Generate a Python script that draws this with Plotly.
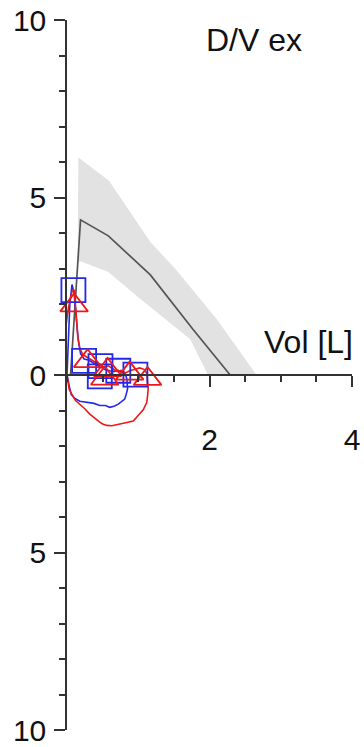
import plotly.graph_objects as go

# Predicted mean flow-volume curve (volume [L], flow) and its spread band
mean_vol = [0.05, 0.19, 0.58, 1.17, 1.77, 2.29]
mean_flow = [0.0, 4.37, 3.92, 2.82, 1.28, 0.0]

band_upper_vol = [0.16, 0.59, 1.17, 1.52, 2.10, 2.66]
band_upper_flow = [6.13, 5.47, 3.75, 2.99, 1.58, 0.0]
band_lower_vol = [1.98, 1.73, 1.03, 0.58, 0.20, 0.15]
band_lower_flow = [0.0, 1.01, 2.14, 2.90, 3.20, 3.20]

# Measured loop, blue
blue_vol = [0.0, 0.01, 0.02, 0.04, 0.07, 0.10, 0.13, 0.16, 0.19, 0.24, 0.30, 0.36,
            0.42, 0.48, 0.54, 0.60, 0.66, 0.72, 0.78, 0.82, 0.84, 0.84, 0.85, 0.83,
            0.81, 0.76, 0.72, 0.66, 0.60, 0.54, 0.46, 0.38, 0.28, 0.18, 0.11, 0.06,
            0.04, 0.02, 0.0]
blue_flow = [0.0, 0.6, 1.3, 2.0, 2.55, 2.3, 1.6, 0.95, 0.6, 0.45, 0.42, 0.35,
             0.30, 0.22, 0.15, 0.12, 0.10, 0.13, 0.06, 0.02, -0.11, -0.25, -0.39, -0.55,
             -0.68, -0.76, -0.82, -0.88, -0.91, -0.86, -0.86, -0.80, -0.77, -0.74, -0.66, -0.55,
             -0.39, -0.18, 0.0]

# Measured loop, red
red_vol = [0.0, -0.03, -0.02, 0.02, 0.07, 0.10, 0.13, 0.15, 0.18, 0.22, 0.28, 0.34,
           0.40, 0.46, 0.52, 0.58, 0.64, 0.70, 0.76, 0.82, 0.88, 0.95, 1.02, 1.08,
           1.12, 1.13, 1.14, 1.13, 1.12, 1.07, 1.00, 0.93, 0.84, 0.76, 0.70, 0.63,
           0.56, 0.50, 0.46, 0.39, 0.32, 0.25, 0.18, 0.12, 0.07, 0.03, 0.0]
red_flow = [0.0, 0.6, 1.3, 1.9, 2.35, 2.4, 1.7, 1.1, 0.75, 0.58, 0.50, 0.42,
            0.36, 0.30, 0.22, 0.26, 0.18, 0.10, 0.13, 0.06, 0.12, 0.15, 0.20, 0.16,
            0.05, -0.18, -0.39, -0.60, -0.77, -0.98, -1.15, -1.30, -1.34, -1.38, -1.40, -1.43,
            -1.42, -1.38, -1.33, -1.22, -1.10, -0.95, -0.84, -0.72, -0.55, -0.40, 0.0]

# Interval markers
square_vol = [0.09, 0.24, 0.47, 0.46, 0.72, 0.96]
square_flow = [2.39, 0.40, 0.25, -0.04, 0.12, 0.01]
triangle_vol = [0.10, 0.29, 0.57, 0.53, 0.88, 1.13]
triangle_flow = [1.96, 0.39, 0.14, -0.10, 0.04, -0.11]

y_tickvals = [-10, -5, 0, 5, 10]
y_ticktext = ["10", "5", "0", "5", "10"]
x_tickvals = [2, 4]
x_ticktext = ["2", "4"]

BLUE = "rgb(35,40,235)"
RED = "rgb(235,25,25)"
FONT = "Liberation Sans, Arial, sans-serif"

fig = go.Figure()

fig.add_trace(go.Scatter(
    x=band_upper_vol + band_lower_vol,
    y=band_upper_flow + band_lower_flow,
    fill="toself", fillcolor="rgb(226,226,226)",
    line=dict(width=0), mode="lines", hoverinfo="skip"))

fig.add_trace(go.Scatter(x=mean_vol, y=mean_flow, mode="lines",
                         line=dict(color="rgb(85,85,85)", width=1.7)))

fig.add_trace(go.Scatter(x=blue_vol, y=blue_flow, mode="lines",
                         line=dict(color=BLUE, width=1.6)))
fig.add_trace(go.Scatter(x=red_vol, y=red_flow, mode="lines",
                         line=dict(color=RED, width=1.6)))

fig.add_trace(go.Scatter(x=square_vol, y=square_flow, mode="markers",
                         cliponaxis=False,
                         marker=dict(symbol="square-open", size=24, color=BLUE,
                                     line=dict(width=1.8, color=BLUE))))
fig.add_trace(go.Scatter(x=triangle_vol, y=triangle_flow, mode="markers",
                         cliponaxis=False,
                         marker=dict(symbol="triangle-up-open", size=24, color=RED,
                                     line=dict(width=1.8, color=RED))))

fig.add_annotation(x=1.92, y=9.43, xref="x", yref="y", text="D/V ex",
                   showarrow=False, xanchor="left", yanchor="middle",
                   font=dict(family=FONT, size=32, color="#111"))
fig.add_annotation(x=4.0, y=0.92, xref="x", yref="y", text="Vol [L]",
                   showarrow=False, xanchor="right", yanchor="middle", xshift=3,
                   font=dict(family=FONT, size=32, color="#111"))

fig.update_layout(
    width=364, height=747,
    margin=dict(l=67, r=12, t=20, b=17, autoexpand=False),
    paper_bgcolor="white", plot_bgcolor="white",
    showlegend=False,
    font=dict(family=FONT, size=30, color="#111"),
    xaxis=dict(range=[0, 4], anchor="free", position=0.5, automargin=False,
               showline=True, linecolor="#333", linewidth=1.5,
               ticks="outside", ticklen=11, tickwidth=1.5, tickcolor="#333",
               tickvals=x_tickvals, ticktext=x_ticktext,
               minor=dict(dtick=0.5, tick0=0, ticks="outside", ticklen=6,
                          tickwidth=1.5, tickcolor="#333", showgrid=False),
               showgrid=False, zeroline=False, ticklabelstandoff=27,
               tickfont=dict(family=FONT, size=30, color="#111")),
    yaxis=dict(range=[-10, 10], automargin=False,
               showline=True, linecolor="#333", linewidth=1.5,
               ticks="outside", ticklen=11, tickwidth=1.5, tickcolor="#333",
               tickvals=y_tickvals, ticktext=y_ticktext,
               minor=dict(dtick=1, tick0=0, ticks="outside", ticklen=6,
                          tickwidth=1.5, tickcolor="#333", showgrid=False),
               showgrid=False, zeroline=False, ticklabelstandoff=2,
               tickfont=dict(family=FONT, size=30, color="#111")),
)

fig.write_html("out.html")
